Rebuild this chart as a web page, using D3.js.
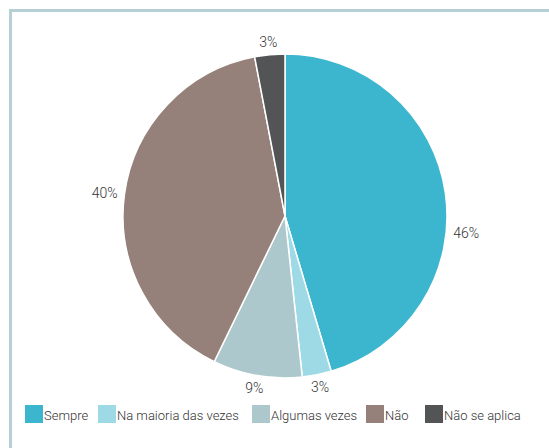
<!DOCTYPE html>
<html><head><meta charset="utf-8">
<script src="https://cdn.jsdelivr.net/npm/d3@7"></script>
<style>body{margin:0;background:#fff}svg{display:block}text{font-family:Roboto,"Open Sans",sans-serif;font-weight:300}</style>
</head><body>
<svg id="c" width="549" height="448"></svg>
<script>
const categories = ["Sempre", "Na maioria das vezes", "Algumas vezes", "Não", "Não se aplica"];
const values = [45.4, 2.9, 8.9, 39.8, 3.0];
const valueLabels = ["46%", "3%", "9%", "40%", "3%"];
const colors = ["#3cb6ce", "#9ed9e6", "#adc8cc", "#958179", "#525456"];

const svg = d3.select("#c");
svg.append("rect").attr("x", 10.5).attr("y", 10.5).attr("width", 600).attr("height", 600)
  .attr("fill", "none").attr("stroke", "#b6cfd4").attr("stroke-width", 3);

const cx = 285, cy = 216, R = 162;
const pie = d3.pie().sort(null).value(d => d)(values);
const arc = d3.arc().innerRadius(0).outerRadius(R);
const g = svg.append("g").attr("transform", `translate(${cx},${cy})`);
g.selectAll("path").data(pie).join("path")
  .attr("d", arc).attr("fill", (d, i) => colors[i])
  .attr("stroke", "#fff").attr("stroke-width", 1.5);

const lbls = g.selectAll("text.lbl").data(pie).join("text").attr("class", "lbl")
  .attr("text-anchor", "middle").attr("dy", "0.35em")
  .attr("font-size", 14).attr("fill", "#333")
  .text((d, i) => valueLabels[i]);
lbls.attr("transform", function (d, i) {
  const bb = this.getBBox();
  let a = (d.startAngle + d.endAngle) / 2;
  if (i === 0) a += 0.24; // large slice: label sits lower on its side, as in the source
  const s = Math.sin(a), c = -Math.cos(a), r = R + 7;
  const x = r * s + s * bb.width / 2, y = r * c + c * 5.5;
  return `translate(${x},${y})`;
});

// legend
const legendX = [25, 98, 252, 366, 425];
const items = svg.append("g").selectAll("g").data(categories).join("g")
  .attr("transform", (d, i) => `translate(${legendX[i]},405)`);
items.append("rect").attr("width", 18).attr("height", 18).attr("fill", (d, i) => colors[i]);
items.append("text").attr("x", 19).attr("y", 10).attr("dy", "0.35em")
  .attr("font-size", 13).attr("fill", "#333").text(d => d);
</script>
</body></html>
